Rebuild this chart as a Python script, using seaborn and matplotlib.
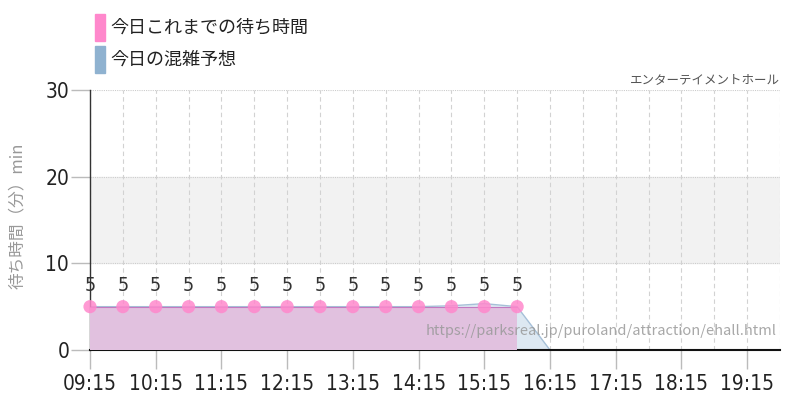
import numpy as np
import pandas as pd
import matplotlib.pyplot as plt
import matplotlib.patches as mpatches
import seaborn as sns

# 今日これまでの待ち時間 (measured)
actual_times = ["09:15", "09:45", "10:15", "10:45", "11:15", "11:45", "12:15",
                "12:45", "13:15", "13:45", "14:15", "14:45", "15:15", "15:45"]
actual_wait = [5, 5, 5, 5, 5, 5, 5, 5, 5, 5, 5, 5, 5, 5]

# 今日の混雑予想 (forecast)
forecast_times = ["09:15", "09:45", "10:15", "10:45", "11:15", "11:45", "12:15",
                  "12:45", "13:15", "13:45", "14:15", "14:45", "15:15", "15:45",
                  "16:15", "16:45", "17:15", "17:45", "18:15", "18:45", "19:15",
                  "19:45"]
forecast_wait = [5, 5, 5, 5, 5, 5, 5, 5, 5, 5, 5, 5.1, 5.35, 5.0,
                 0, -0.1, 0, 0, 0, 0, 0, 0]

tick_labels = ["09:15", "10:15", "11:15", "12:15", "13:15", "14:15",
               "15:15", "16:15", "17:15", "18:15", "19:15"]
y_ticks = [0, 10, 20, 30]


def to_hours(t):
    h, m = t.split(":")
    return int(h) + int(m) / 60


actual = pd.DataFrame({"t": [to_hours(t) for t in actual_times], "wait": actual_wait})
forecast = pd.DataFrame({"t": [to_hours(t) for t in forecast_times], "wait": forecast_wait})

sns.set_theme(style="white")
plt.rcParams["font.family"] = ["Noto Sans CJK JP", "DejaVu Sans"]
num_kw = dict(family="DejaVu Sans", stretch="condensed")

fig = plt.figure(figsize=(8, 4), dpi=100)
ax = fig.add_axes([0.1125, 0.125, 0.8625, 0.65])

x0, x1 = to_hours("09:15"), to_hours("19:45")
ax.set_xlim(x0, x1)
ax.set_ylim(0, 30)

# band 10-20 and grid
ax.axhspan(10, 20, color="#f2f2f2", zorder=0)
for y in [10, 20, 30]:
    ax.axhline(y, color="#cccccc", lw=0.8, ls=(0, (1, 1)), zorder=0.5)
for t in forecast["t"]:
    ax.axvline(t, color="#d2d2d2", lw=0.8, ls=(0, (4, 3)), zorder=0.5)

# forecast area
ax.fill_between(forecast["t"], forecast["wait"], 0, color="#dde8f2", lw=0, zorder=1)
sns.lineplot(data=forecast, x="t", y="wait", ax=ax, color="#a6c0d8", lw=1, zorder=2)

# actual area
ax.fill_between(actual["t"], actual["wait"] - 0.15, 0, color="#e1c1df", lw=0, zorder=3)
sns.lineplot(data=actual, x="t", y="wait", ax=ax, color="#c27ac0", lw=0.8, zorder=4)
sns.scatterplot(data=actual, x="t", y="wait", ax=ax, color="#ff88cc", s=90,
                alpha=0.85, edgecolor="none", zorder=5, clip_on=False)
for t, w in zip(actual["t"], actual["wait"]):
    ax.text(t, w + 1.3, str(w), ha="center", va="bottom", fontsize=14,
            color="#333333", zorder=6, **num_kw)

# axes styling
ax.set_xticks([to_hours(t) for t in tick_labels])
ax.set_xticklabels(tick_labels, fontsize=15, color="#222222", **num_kw)
ax.set_yticks(y_ticks)
ax.set_yticklabels([str(v) for v in y_ticks], fontsize=15, color="#222222", **num_kw)
ax.tick_params(axis="both", bottom=True, left=True, length=14, color="#bbbbbb",
               width=1, pad=3)
ax.tick_params(axis="y", pad=1)
for s in ["top", "right"]:
    ax.spines[s].set_visible(False)
ax.spines["left"].set_color("#333333")
ax.spines["bottom"].set_color("#111111")
ax.spines["bottom"].set_linewidth(1.5)
ax.spines["left"].set_linewidth(1)
ax.set_xlabel("")
ax.set_ylabel("")

fig.text(0.022, 0.46, "待ち時間（分）min", rotation=90, ha="center", va="center",
         fontsize=12, color="#999999")

# watermark
ax.text(0.995, 0.045, "https://parksreal.jp/puroland/attraction/ehall.html",
        transform=ax.transAxes, ha="right", va="bottom", fontsize=10.5,
        color="#999999", alpha=0.85, zorder=7)

# attraction name
fig.text(0.975, 0.785, "エンターテイメントホール", ha="right", va="bottom",
         fontsize=9, color="#555555")

# legend
for y, c, label in [(0.898, "#ff88cc", "今日これまでの待ち時間"),
                    (0.818, "#8fb2d0", "今日の混雑予想")]:
    fig.patches.append(mpatches.Rectangle((0.119, y), 0.0125, 0.066, color=c,
                                          transform=fig.transFigure, figure=fig))
    fig.text(0.138, y + 0.033, label, ha="left", va="center", fontsize=13,
             color="#222222")

fig.savefig("out.png", dpi=100)
